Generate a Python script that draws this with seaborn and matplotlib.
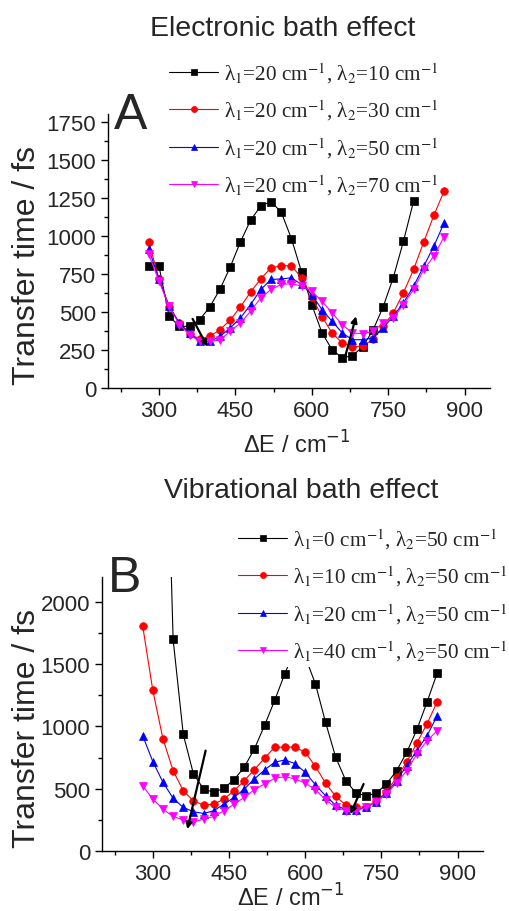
import numpy as np
import pandas as pd
import seaborn as sns
import matplotlib.pyplot as plt
from matplotlib.ticker import MultipleLocator
from matplotlib.font_manager import FontProperties

# energy gaps (cm-1)
e_short = list(range(280, 801, 20))
e_full = list(range(280, 861, 20))
e_b0 = list(range(320, 861, 20))

# panel A: electronic bath (lambda1 = 20, lambda2 varies)
a_l2_10 = [801, 801, 471, 405, 405, 449, 533, 650, 795, 960, 1103, 1196, 1224, 1156,
           982, 762, 548, 363, 251, 198, 212, 271, 378, 531, 724, 963, 1228]
a_l2_30 = [960, 718, 535, 427, 355, 322, 339, 383, 447, 533, 630, 718, 789, 803, 803,
           724, 600, 469, 361, 295, 271, 275, 320, 405, 493, 625, 779, 960, 1136, 1295]
a_l2_50 = [916, 713, 537, 427, 361, 306, 306, 339, 394, 460, 548, 647, 713, 716, 724,
           680, 614, 515, 438, 361, 317, 317, 328, 394, 471, 559, 669, 801, 933, 1086]
a_l2_70 = [878, 702, 537, 416, 350, 306, 306, 317, 372, 427, 504, 592, 647, 680, 685,
           669, 636, 570, 493, 416, 361, 357, 372, 427, 460, 548, 647, 779, 867, 995]

# panel B: vibrational bath (lambda2 = 50, lambda1 varies)
b_l1_0 = [4600, 1699, 936, 619, 498, 471, 503, 573, 672, 820, 1008, 1210, 1425, 1620,
          1560, 1344, 1035, 753, 565, 465, 444, 465, 538, 645, 793, 976, 1197, 1430]
b_l1_10 = [1810, 1290, 901, 645, 484, 403, 368, 376, 417, 484, 565, 653, 745, 834, 834,
           834, 793, 680, 546, 439, 368, 350, 355, 398, 476, 592, 713, 869, 1022, 1200]
b_l1_20 = [927, 718, 552, 423, 350, 315, 301, 323, 376, 430, 497, 578, 651, 713, 731,
           702, 632, 532, 444, 368, 331, 331, 350, 396, 465, 565, 686, 806, 927, 1086]
b_l1_40 = [524, 417, 336, 277, 250, 234, 256, 277, 323, 376, 430, 492, 538, 584, 597,
           578, 546, 492, 411, 350, 323, 323, 350, 396, 457, 546, 645, 780, 887, 965]

labels_a = [r'λ$_1$=20 cm$^{-1}$, λ$_2$=10 cm$^{-1}$',
            r'λ$_1$=20 cm$^{-1}$, λ$_2$=30 cm$^{-1}$',
            r'λ$_1$=20 cm$^{-1}$, λ$_2$=50 cm$^{-1}$',
            r'λ$_1$=20 cm$^{-1}$, λ$_2$=70 cm$^{-1}$']
labels_b = [r'λ$_1$=0 cm$^{-1}$, λ$_2$=50 cm$^{-1}$',
            r'λ$_1$=10 cm$^{-1}$, λ$_2$=50 cm$^{-1}$',
            r'λ$_1$=20 cm$^{-1}$, λ$_2$=50 cm$^{-1}$',
            r'λ$_1$=40 cm$^{-1}$, λ$_2$=50 cm$^{-1}$']

colors = ['black', 'red', 'blue', 'magenta']
markers = ['s', 'o', '^', 'v']

# arrows (start, end) in data coords
arrows_a = [((366, 454), (395, 272)), ((663, 174), (687, 471))]
arrows_b = [((404, 806), (368, 175)), ((715, 538), (689, 296))]

sns.set_style('ticks')
plt.rcParams['font.family'] = ['Liberation Sans', 'DejaVu Sans']
plt.rcParams['xtick.major.size'] = 5
plt.rcParams['ytick.major.size'] = 5
plt.rcParams['xtick.minor.size'] = 3
plt.rcParams['ytick.minor.size'] = 3

fig = plt.figure(figsize=(5.1, 9.12), dpi=100)
ax_a = fig.add_axes([0.2118, 0.5735, 0.749, 0.3004])
ax_b = fig.add_axes([0.2000, 0.0658, 0.747, 0.3004])

leg_font = FontProperties(family='Liberation Serif', size=15.3, math_fontfamily='stix')


def draw_panel(ax, xs, ys, labels, arrows, ymax, ystep, letter, title,
               title_xy, legend_xy, label_x, label_y, xlab_y, legend_bg):
    for x, y, lab, c, m in zip(xs, ys, labels, colors, markers):
        sns.lineplot(x=x, y=y, ax=ax, color=c, marker=m, label=lab, linewidth=0.8,
                     markersize=5.5, markeredgecolor=c, markeredgewidth=0.5)
    for (x0, y0), (x1, y1) in arrows:
        ax.annotate('', xy=(x1, y1), xytext=(x0, y0),
                    arrowprops=dict(arrowstyle='-|>', color='black', lw=1.6,
                                    mutation_scale=9, shrinkA=0, shrinkB=0))
    ax.set_xlim(200, 950)
    ax.set_ylim(0, ymax)
    ax.xaxis.set_major_locator(MultipleLocator(150))
    ax.xaxis.set_minor_locator(MultipleLocator(75))
    ax.yaxis.set_major_locator(MultipleLocator(ystep))
    ax.yaxis.set_minor_locator(MultipleLocator(ystep / 2))
    ax.tick_params(axis='both', which='major', labelsize=16, width=1, color='black')
    ax.tick_params(axis='both', which='minor', width=1, color='black')
    sns.despine(ax=ax)
    for sp in ax.spines.values():
        sp.set_linewidth(1)
        sp.set_color('black')
    ax.set_xlabel(r'ΔE / cm$^{-1}$', fontsize=17, math_fontfamily='dejavusans')
    ax.set_ylabel('Transfer time / fs', fontsize=23)
    ax.xaxis.set_label_coords(0.495, xlab_y)
    ax.yaxis.set_label_coords(label_x, label_y)
    ax.text(0.015, 0.995, letter, transform=ax.transAxes, fontsize=36,
            ha='left', va='center')
    fig.text(title_xy[0], title_xy[1], title, fontsize=20.5, ha='center', va='center')
    leg = ax.legend(loc='upper left', bbox_to_anchor=legend_xy,
                    bbox_transform=fig.transFigure, prop=leg_font,
                    frameon=legend_bg, fancybox=False, framealpha=1,
                    handlelength=2.3, handletextpad=0.3, labelspacing=0.6,
                    borderpad=0.2, borderaxespad=0, markerscale=0.8)
    leg.get_frame().set_edgecolor('none')
    leg.get_frame().set_facecolor('white')


draw_panel(ax_a, [e_short, e_full, e_full, e_full],
           [a_l2_10, a_l2_30, a_l2_50, a_l2_70], labels_a, arrows_a,
           1800, 250, 'A', 'Electronic bath effect', (0.555, 1 - 29 / 912),
           (165 / 510, 1 - 57 / 912), -0.173, 0.45, -0.155, False)
draw_panel(ax_b, [e_b0, e_full, e_full, e_full],
           [b_l1_0, b_l1_10, b_l1_20, b_l1_40], labels_b, arrows_b,
           2200, 500, 'B', 'Vibrational bath effect', (0.59, 1 - 491 / 912),
           (234 / 510, 1 - 523 / 912), -0.158, 0.45, -0.118, True)

fig.savefig('out.png', dpi=100)
